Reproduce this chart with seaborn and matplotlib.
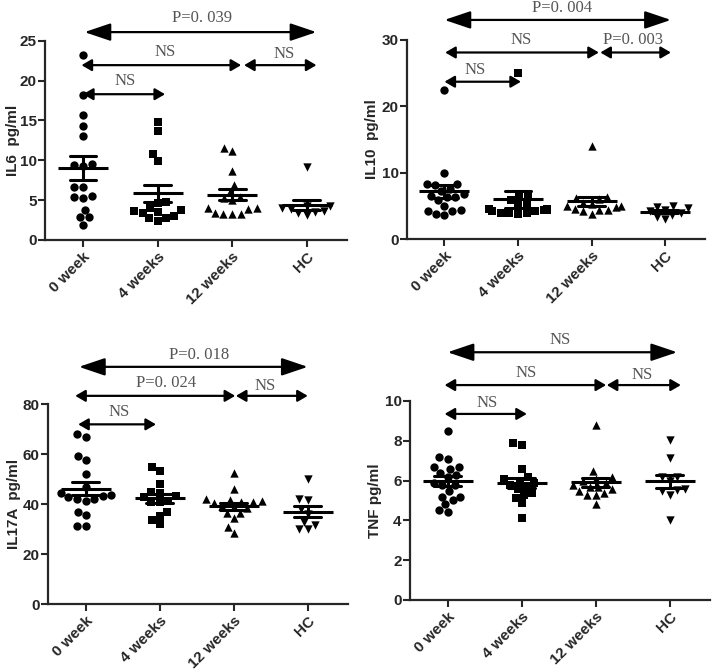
import numpy as np
import pandas as pd
import matplotlib
matplotlib.use("Agg")
import matplotlib.pyplot as plt
import seaborn as sns

# groups and markers
groups = ["0 week", "4 weeks", "12 weeks", "HC"]
markers = ["o", "s", "^", "v"]

# IL6 pg/ml
il6_0wk = [23.2, 18.2, 15.7, 14.3, 13.0, 9.5, 9.4, 9.3, 6.7, 6.6, 5.5, 5.4, 5.3, 3.8, 2.9, 2.9, 1.9]
il6_4wk = [14.8, 13.7, 10.8, 9.9, 4.7, 4.6, 4.0, 3.7, 3.6, 3.5, 3.4, 3.0, 2.8, 2.7, 2.4]
il6_12wk = [11.6, 11.2, 8.6, 6.9, 6.0, 5.4, 5.2, 5.0, 4.0, 4.0, 3.9, 3.4, 3.3, 3.3, 3.2]
il6_hc = [9.2, 4.3, 4.2, 4.0, 3.9, 3.6, 3.5, 3.4, 3.1]

# IL10 pg/ml
il10_0wk = [22.5, 10.0, 8.3, 8.3, 8.2, 7.6, 7.3, 6.8, 6.5, 6.4, 6.3, 5.9, 5.0, 4.4, 4.3, 4.2, 3.8, 3.7]
il10_4wk = [25.0, 6.5, 6.4, 5.9, 5.2, 5.1, 4.6, 4.5, 4.4, 4.4, 4.3, 4.2, 4.0, 4.0, 3.9, 3.8]
il10_12wk = [14.1, 6.3, 6.2, 6.0, 5.5, 5.3, 5.0, 5.0, 4.8, 4.5, 4.4, 4.4, 4.2, 3.8]
il10_hc = [5.0, 4.9, 4.7, 4.4, 4.2, 3.9, 3.7, 3.4, 3.0]

# IL17A pg/ml
il17_0wk = [68.2, 67.0, 59.3, 57.7, 52.0, 47.0, 44.5, 43.6, 43.2, 42.8, 42.3, 42.0, 41.5, 37.0, 35.7, 31.3, 31.3]
il17_4wk = [54.8, 53.4, 48.1, 45.0, 44.4, 43.2, 42.8, 41.5, 41.0, 40.8, 37.0, 35.5, 33.7, 32.1]
il17_12wk = [52.5, 46.0, 42.2, 41.8, 41.2, 41.0, 40.8, 40.5, 39.2, 38.8, 38.5, 36.6, 36.4, 34.4, 31.0, 28.4]
il17_hc = [50.2, 42.2, 41.6, 38.3, 36.0, 33.0, 31.8, 30.3, 30.0]

# TNF pg/ml
tnf_0wk = [8.5, 7.2, 7.1, 6.7, 6.7, 6.6, 6.4, 6.3, 6.2, 5.9, 5.8, 5.8, 5.5, 5.2, 5.2, 5.0, 4.8, 4.5, 4.4]
tnf_4wk = [7.9, 7.8, 6.6, 6.2, 6.1, 6.0, 5.9, 5.8, 5.7, 5.6, 5.4, 5.3, 5.15, 4.85, 4.1]
tnf_12wk = [8.8, 6.5, 6.2, 6.1, 6.0, 5.9, 5.8, 5.7, 5.7, 5.6, 5.5, 5.4, 5.3, 5.3, 4.8]
tnf_hc = [8.05, 7.15, 6.2, 6.2, 6.0, 5.6, 5.55, 5.5, 5.3, 4.0]

# comparison labels (top, middle-left, middle-right, lower)
il6_pvals = ["P=0. 039", "NS", "NS", "NS"]
il10_pvals = ["P=0. 004", "NS", "P=0. 003", "NS"]
il17_pvals = ["P=0. 018", "P=0. 024", "NS", "NS"]
tnf_pvals = ["NS", "NS", "NS", "NS"]

sns.set_style("ticks")
plt.rcParams["font.family"] = ["Liberation Sans", "DejaVu Sans"]
plt.rcParams["font.weight"] = "bold"
plt.rcParams["axes.labelweight"] = "bold"

fig = plt.figure(figsize=(7.14, 6.70), dpi=100)

top_style = "<|-|>,head_length=0.8,head_width=0.27"
small_style = "<|-|>,head_length=0.6,head_width=0.35"


def draw_panel(rect, values, ylabel, ylab_x, ylim, yticks, pvals, arrow_y, text_pos, arrow_x):
    ax = fig.add_axes(rect)
    df = pd.DataFrame({
        "group": np.repeat(groups, [len(v) for v in values]),
        "value": np.concatenate(values),
    })
    for g, m in zip(groups, markers):
        sns.swarmplot(data=df[df["group"] == g], x="group", y="value", order=groups,
                      marker=m, color="black", size=6, ax=ax)
    # mean +/- SEM
    sns.pointplot(data=df, x="group", y="value", order=groups, errorbar="se",
                  capsize=0.36, color="black", linestyle="none", marker="_",
                  markersize=36, markeredgewidth=2.2, err_kws={"linewidth": 2.2}, ax=ax)

    ax.set_xlim(-0.51, 3.54)
    ax.set_ylim(*ylim)
    ax.set_yticks(yticks)
    ax.set_xticks(range(len(groups)))
    ax.set_xticklabels(groups, rotation=45, ha="right", rotation_mode="anchor")
    ax.set_xlabel("")
    ax.set_ylabel(ylabel, fontsize=11, fontweight="bold")
    ax.yaxis.set_label_coords(ylab_x, 0.5)
    sns.despine(ax=ax)
    for s in ["left", "bottom"]:
        ax.spines[s].set_linewidth(1.6)
    ax.tick_params(width=1.5, length=5, labelsize=11)
    ax.tick_params(axis="y", pad=1)
    ax.tick_params(axis="x", pad=2)

    # significance arrows
    for i, ((x0, x1), y) in enumerate(zip(arrow_x, arrow_y)):
        style = top_style if i == 0 else small_style
        ms = 20 if i == 0 else 10
        ax.annotate("", xy=(x1, y), xytext=(x0, y), annotation_clip=False,
                    arrowprops=dict(arrowstyle=style, color="black", lw=1.6,
                                    shrinkA=0, shrinkB=0, mutation_scale=ms))
    for label, (tx, ty) in zip(pvals, text_pos):
        ax.text(tx, ty, label, ha="center", va="center", fontsize=12,
                family="Liberation Serif", fontweight="normal", color="#555555",
                clip_on=False)
    return ax


draw_panel([0.063, 0.642, 0.423, 0.297], [il6_0wk, il6_4wk, il6_12wk, il6_hc],
           "IL6  pg/ml", -0.083, (0, 25), [0, 5, 10, 15, 20, 25], il6_pvals,
           [26.1, 21.95, 21.95, 18.3],
           [(1.59, 27.9), (1.1, 23.6), (2.7, 23.4), (0.56, 19.9)],
           [(0.02, 3.13), (-0.02, 2.12), (2.16, 3.13), (0.0, 1.10)])

draw_panel([0.570, 0.643, 0.417, 0.2975], [il10_0wk, il10_4wk, il10_12wk, il10_hc],
           "IL10  pg/ml", -0.094, (0, 30), [0, 10, 20, 30], il10_pvals,
           [33.0, 28.1, 28.1, 23.7],
           [(1.6, 34.8), (1.04, 30.0), (2.56, 30.0), (0.42, 25.5)],
           [(0.0, 3.08), (0.01, 2.1), (2.12, 3.08), (0.0, 1.04)])

draw_panel([0.067, 0.098, 0.420, 0.2985], [il17_0wk, il17_4wk, il17_12wk, il17_hc],
           "IL17A  pg/ml", -0.09, (0, 80), [0, 20, 40, 60, 80], il17_pvals,
           [95.0, 83.4, 83.4, 72.0],
           [(1.53, 99.7), (1.08, 88.4), (2.42, 87.4), (0.45, 76.8)],
           [(-0.09, 3.0), (-0.14, 2.02), (2.03, 3.0), (-0.1, 0.95)])

draw_panel([0.574, 0.1045, 0.42, 0.297], [tnf_0wk, tnf_4wk, tnf_12wk, tnf_hc],
           "TNF pg/ml", -0.093, (0, 10), [0, 2, 4, 6, 8, 10], tnf_pvals,
           [12.45, 10.8, 10.8, 9.35],
           [(1.52, 13.07), (1.06, 11.4), (2.63, 11.3), (0.53, 9.88)],
           [(0.0, 3.1), (-0.04, 2.14), (2.15, 3.15), (-0.04, 1.07)])

fig.savefig("out.png", dpi=100, facecolor="white")
